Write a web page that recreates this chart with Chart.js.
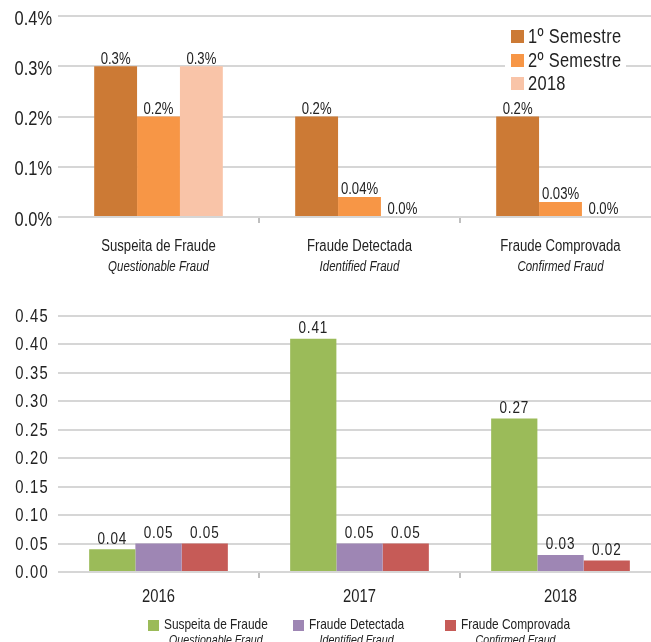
<!DOCTYPE html>
<html>
<head>
<meta charset="utf-8">
<script src="https://cdn.jsdelivr.net/npm/chart.js@4/dist/chart.umd.min.js"></script>
<style>
  html, body { margin: 0; padding: 0; background: #fff; overflow: hidden; width: 651px; height: 642px; }
  #wrap { position: relative; width: 651px; height: 642px; overflow: hidden; }
  canvas { position: absolute; left: 0; }
  #topChart { top: 0; }
  #bottomChart { top: 290px; }
</style>
</head>
<body>
<div id="wrap">
  <canvas id="topChart" width="661" height="290"></canvas>
  <canvas id="bottomChart" width="661" height="352"></canvas>
</div>
<script>
// Fraud rates by type, per semester (percent)
const fraudTypes = ['Suspeita de Fraude', 'Fraude Detectada', 'Fraude Comprovada'];
const fraudTypesEn = ['Questionable Fraud', 'Identified Fraud', 'Confirmed Fraud'];
const periodNames = ['1º Semestre', '2º Semestre', '2018'];
const firstSemester = [0.3, 0.2, 0.2];
const secondSemester = [0.2, 0.04, 0.03];
const fullYear2018 = [0.3, 0.0, 0.0];

// Fraud rates by year
const years = ['2016', '2017', '2018'];
const questionableByYear = [0.04, 0.41, 0.27];
const identifiedByYear = [0.05, 0.05, 0.03];
const confirmedByYear = [0.05, 0.05, 0.02];

const SANS = '"Liberation Sans", Arial, sans-serif';
const TEXT = '#222222';
const GRID = '#D6D6D6';
const NARROW_X = 0.82;   // horizontal squeeze giving a narrow face

// Draw text horizontally condensed around its anchor point
function narrowText(ctx, text, x, y, font, align, spacing) {
  ctx.save();
  ctx.font = font;
  ctx.fillStyle = TEXT;
  ctx.letterSpacing = (spacing || 0) + 'px';
  ctx.textAlign = align || 'center';
  ctx.textBaseline = 'middle';
  ctx.translate(x, y);
  ctx.scale(NARROW_X, 1);
  ctx.fillText(text, 0, 0);
  const w = ctx.measureText(text).width * NARROW_X;
  ctx.restore();
  return w;
}

function pctLabel(v) {
  if (v === 0) return '0.0%';
  return (v < 0.1 ? v.toFixed(2) : v.toFixed(1)) + '%';
}

// Value labels above each bar
function valueLabels(format, font, gap, spacing) {
  return {
    id: 'valueLabels',
    afterDatasetsDraw(chart) {
      const ctx = chart.ctx;
      chart.data.datasets.forEach((ds, di) => {
        chart.getDatasetMeta(di).data.forEach((bar, i) => {
          narrowText(ctx, format(ds.data[i]), bar.x, bar.y - gap, font, 'center', spacing);
        });
      });
    }
  };
}

// Y axis tick labels, right-aligned against the plot
function yTickText(format, font, padding, dy, spacing) {
  return {
    id: 'yTickText',
    afterDraw(chart) {
      const y = chart.scales.y;
      y.ticks.forEach((t) => {
        narrowText(chart.ctx, format(t.value), y.right - padding, y.getPixelForValue(t.value) + dy, font, 'right', spacing);
      });
    }
  };
}

// Category labels under the x axis (optional italic second line)
function categoryText(mains, subs, mainFont, subFont, y1, y2) {
  return {
    id: 'categoryText',
    afterDraw(chart) {
      const x = chart.scales.x;
      mains.forEach((m, i) => {
        const px = x.getPixelForValue(i);
        narrowText(chart.ctx, m, px, y1, mainFont, 'center');
        if (subs) narrowText(chart.ctx, subs[i], px, y2, subFont, 'center');
      });
    }
  };
}

// Boxed legend at the top right of the first chart
const periodLegend = {
  id: 'periodLegend',
  afterDraw(chart) {
    const ctx = chart.ctx;
    ctx.save();
    ctx.fillStyle = '#fff';
    ctx.fillRect(505, 24, 121, 72);
    const rows = [37, 61, 84];
    chart.data.datasets.forEach((ds, i) => {
      ctx.fillStyle = ds.backgroundColor;
      ctx.fillRect(511, rows[i] - 7, 13, 13);
      narrowText(ctx, ds.label, 528, rows[i], '20px ' + SANS, 'left', 0.4);
    });
    ctx.restore();
  }
};

// Legend under the second chart, with English subtitles
function seriesLegend(subs) {
  return {
    id: 'seriesLegend',
    afterDraw(chart) {
      const ctx = chart.ctx;
      const xs = [148, 293, 445];
      chart.data.datasets.forEach((ds, i) => {
        ctx.save();
        ctx.fillStyle = ds.backgroundColor;
        ctx.fillRect(xs[i], 330, 11, 11);
        ctx.restore();
        const tx = xs[i] + 16;
        const w = narrowText(ctx, ds.label, tx, 335, '14.5px ' + SANS, 'left');
        narrowText(ctx, subs[i], tx + w / 2, 350, 'italic 13px ' + SANS, 'center');
      });
    }
  };
}

const tickMarkColor = (c) => (c.index === 0 ? 'rgba(0,0,0,0)' : '#BFBFBF');

new Chart(document.getElementById('topChart'), {
  type: 'bar',
  data: {
    labels: fraudTypes,
    datasets: [
      { label: periodNames[0], data: firstSemester, backgroundColor: '#CC7A35' },
      { label: periodNames[1], data: secondSemester, backgroundColor: '#F79646' },
      { label: periodNames[2], data: fullYear2018, backgroundColor: '#F9C4A8' }
    ]
  },
  options: {
    responsive: false,
    animation: false,
    devicePixelRatio: 1,
    layout: { padding: { top: 16, left: 0, right: 0, bottom: 0 } },
    datasets: { bar: { categoryPercentage: 0.64, barPercentage: 1.0 } },
    plugins: { legend: { display: false }, tooltip: { enabled: false } },
    scales: {
      x: {
        afterFit: (s) => { s.height = 73; },
        ticks: { display: false },
        border: { display: false },
        grid: { drawOnChartArea: false, drawTicks: true, tickLength: 6, color: tickMarkColor, lineWidth: 2 }
      },
      y: {
        min: 0, max: 0.4,
        afterFit: (s) => { s.width = 58; },
        border: { display: false },
        grid: { color: GRID, lineWidth: 2, drawTicks: false },
        ticks: { stepSize: 0.1, display: false }
      }
    }
  },
  plugins: [
    yTickText((v) => v.toFixed(1) + '%', '20px ' + SANS, 6, 3, 0),
    valueLabels(pctLabel, '16px ' + SANS, 7, 0),
    categoryText(fraudTypes, fraudTypesEn, '16px ' + SANS, 'italic 14px ' + SANS, 247, 267),
    periodLegend
  ]
});

new Chart(document.getElementById('bottomChart'), {
  type: 'bar',
  data: {
    labels: years,
    datasets: [
      { label: fraudTypes[0], data: questionableByYear, backgroundColor: '#9BBB59' },
      { label: fraudTypes[1], data: identifiedByYear, backgroundColor: '#9E86B4' },
      { label: fraudTypes[2], data: confirmedByYear, backgroundColor: '#C65B57' }
    ]
  },
  options: {
    responsive: false,
    animation: false,
    devicePixelRatio: 1,
    layout: { padding: { top: 26, left: 0, right: 0, bottom: 0 } },
    datasets: { bar: { categoryPercentage: 0.69, barPercentage: 1.0 } },
    plugins: { legend: { display: false }, tooltip: { enabled: false } },
    scales: {
      x: {
        afterFit: (s) => { s.height = 70; },
        ticks: { display: false },
        border: { display: false },
        grid: { drawOnChartArea: false, drawTicks: true, tickLength: 6, color: tickMarkColor, lineWidth: 2 }
      },
      y: {
        min: 0, max: 0.45,
        afterFit: (s) => { s.width = 58; },
        border: { display: false },
        grid: { color: GRID, lineWidth: 2, drawTicks: false },
        ticks: { stepSize: 0.05, display: false }
      }
    }
  },
  plugins: [
    yTickText((v) => v.toFixed(2), '18px ' + SANS, 9, 1, 1.5),
    valueLabels((v) => v.toFixed(2), '16.5px ' + SANS, 10, 1),
    categoryText(years, null, '18px ' + SANS, null, 307, 0),
    seriesLegend(fraudTypesEn)
  ]
});
</script>
</body>
</html>
